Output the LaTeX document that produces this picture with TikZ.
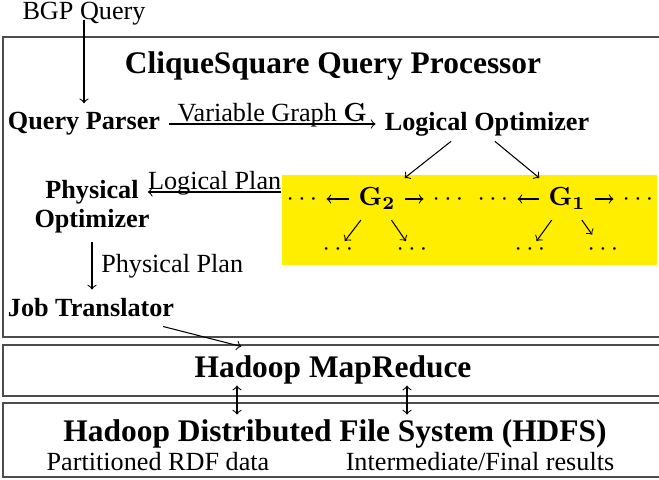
\documentclass[tikz,border=0pt]{standalone}
\usepackage[no-math]{fontspec}
\setmainfont{Liberation Serif}
\usetikzlibrary{positioning, fit, calc}
\definecolor{planyellow}{RGB}{255,238,0}

\begin{document}
\begin{tikzpicture}[x=0.3817pt, y=-0.3817pt,
        tier/.style={draw=black!70, line width=.6pt},
        comp/.style={font=\bfseries},
        banner/.style={font=\large\bfseries},
        gnode/.style={text height=7pt, text depth=2pt},
        leaf/.style={inner sep=1pt}]
        \useasboundingbox (0,0) rectangle (659,480);
        \clip (0,0) rectangle (659,480);

        \draw[tier] (3,37) rectangle (680,337);
        \draw[tier] (3,345) rectangle (680,396);
        \draw[tier] (3,403) rectangle (680,477);

        \node (bgp) at (84,14) {BGP Query};
        \node[banner] (cqp) at (333,66) {CliqueSquare Query Processor};
        \node[comp] (qp) at (84,124) {Query Parser};
        \node[comp] (lo) at (487,124) {Logical Optimizer};
        \node[comp] (po) at (92,192) {Physical};
        \node[comp] (po2) at (92,221) {Optimizer};
        \node[comp] (jt) at (91,308) {Job Translator};
        \node[banner] (mr) at (333,370) {Hadoop MapReduce};
        \node[banner] (hdfs) at (335,434) {Hadoop Distributed File System (HDFS)};
        \node (rdf) at (158,462) {Partitioned RDF data};
        \node (res) at (480,462) {Intermediate/Final results};

        % plan space
        \node[gnode] (d1) at (302,199) {$\cdots$};
        \node[gnode] (g2) at (377,199) {$\mathbf{G_2}$};
        \node[gnode] (d2) at (448,199) {$\cdots$};
        \node[gnode] (d3) at (493,199) {$\cdots$};
        \node[gnode] (g1) at (567,199) {$\mathbf{G_1}$};
        \node[gnode] (d4) at (638,199) {$\cdots$};
        \node[leaf] (d5) at (338,250) {$\cdots$};
        \node[leaf] (d6) at (412,250) {$\cdots$};
        \node[leaf] (d7) at (530,250) {$\cdots$};
        \node[leaf] (d8) at (603,250) {$\cdots$};

        \pgfdeclarelayer{bg}
        \pgfsetlayers{bg,main}
        \begin{pgfonlayer}{bg}
            \coordinate (p1) at (282,175);
            \coordinate (p2) at (657,265);
            \node (plans) [fill=planyellow, inner sep=0pt, fit=(p1) (p2)] {};
        \end{pgfonlayer}

        \draw[->] (bgp.base) -- (qp);
        \draw[->] (qp) -- node[anchor=base, yshift=1pt] {Variable Graph $\mathbf{G}$} (lo);
        \draw[->] ([xshift=-13.7pt, yshift=1.5pt]lo.south) -- (g2.north east);
        \draw[->] ([xshift=3pt, yshift=1.5pt]lo.south) -- (g1.north west);
        \draw[->] (g2) -- (d1);
        \draw[->] (g2) -- (d2);
        \draw[->] (g1) -- (d3);
        \draw[->] (g1) -- (d4);
        \draw[->] (g2) -- (d5);
        \draw[->] (g2) -- (d6);
        \draw[->] (g1) -- (d7);
        \draw[->, shorten >=3pt] (g1) -- (d8);
        \draw[->] (plans.west |- po) -- node[anchor=base, yshift=1pt] {Logical Plan} (po);
        \draw[->] (po2) -- node[right] {Physical Plan} (po2 |- jt.north);
        \draw[->] (jt) -- (mr);
        \draw[<->] ($(mr.base)+(-96,8)$) -- ++(0,29);
        \draw[<->] ($(mr.base)+(74,8)$) -- ++(0,29);
\end{tikzpicture}
\end{document}
